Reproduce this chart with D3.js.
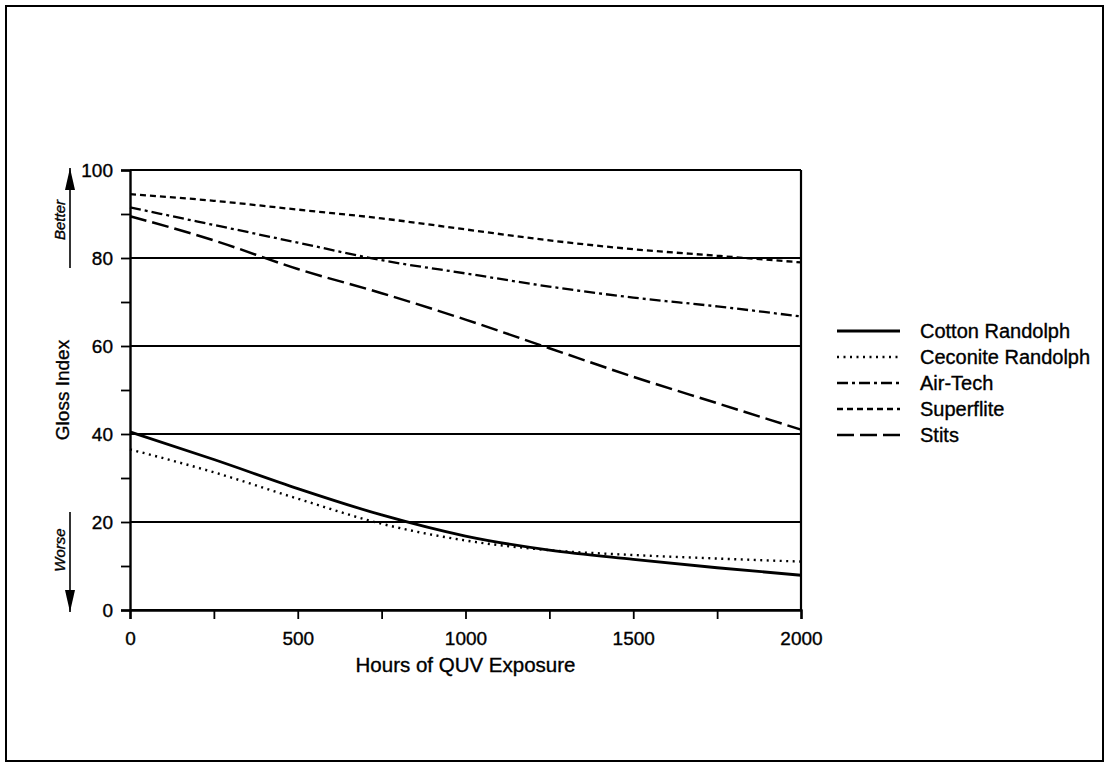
<!DOCTYPE html>
<html>
<head>
<meta charset="utf-8">
<script src="https://d3js.org/d3.v7.min.js"></script>
<style>
  html, body { margin: 0; padding: 0; background: #fff; }
  svg { display: block; }
  text { font-family: Arial, "Liberation Sans", sans-serif; fill: #000; stroke: #000; stroke-width: 0.35px; }
</style>
</head>
<body>
<div id="chart"></div>
<script>
// Gloss index vs hours of QUV exposure

const hours = [0, 250, 500, 750, 1000, 1250, 1500, 1750, 2000];

const cottonRandolph   = [40.5, 34.2, 27.6, 21.6, 16.8, 13.6, 11.5, 9.6, 7.9];
const ceconiteRandolph = [36.5, 31.3, 25.3, 19.6, 15.8, 13.6, 12.5, 11.7, 11.0];
const airTech          = [91.5, 87.5, 83.5, 79.5, 76.5, 73.5, 71.0, 69.0, 66.7];
const superflite       = [94.5, 93.0, 91.0, 89.0, 86.5, 84.0, 82.0, 80.5, 79.0];
const stits            = [89.5, 84.0, 77.5, 72.0, 66.0, 59.5, 53.0, 47.0, 41.0];

const seriesNames = ['Cotton Randolph', 'Ceconite Randolph', 'Air-Tech', 'Superflite', 'Stits'];
const seriesValues = [cottonRandolph, ceconiteRandolph, airTech, superflite, stits];

const xTickLabels = [0, 500, 1000, 1500, 2000];
const yTickLabels = [0, 20, 40, 60, 80, 100];

// line styles per series
const dashes = [null, '2,4.5', '11,4,3,4', '6,4', '17,6'];
const widths = [2.8, 2.4, 2.3, 2.3, 2.5];

const width = 1106, height = 764;
const margin = { left: 130, right: 305, top: 170, bottom: 154 };

const svg = d3.select('#chart')
    .append('svg')
    .attr('width', width)
    .attr('height', height);

// outer frame
svg.append('rect')
    .attr('x', 6).attr('y', 6)
    .attr('width', width - 9).attr('height', height - 9)
    .attr('fill', 'none')
    .attr('stroke', '#000')
    .attr('stroke-width', 2);

const x = d3.scaleLinear().domain([0, 2000]).range([margin.left, width - margin.right]);
const y = d3.scaleLinear().domain([0, 100]).range([height - margin.bottom, margin.top]);

// horizontal grid lines
svg.append('g')
    .selectAll('line')
    .data(yTickLabels)
    .join('line')
    .attr('x1', x(0)).attr('x2', x(2000))
    .attr('y1', d => y(d)).attr('y2', d => y(d))
    .attr('stroke', '#000')
    .attr('stroke-width', 1.8);

// right border
svg.append('line')
    .attr('x1', x(2000)).attr('x2', x(2000))
    .attr('y1', y(0)).attr('y2', y(100))
    .attr('stroke', '#000')
    .attr('stroke-width', 2.2);

// y axis
const yAxis = svg.append('g')
    .attr('transform', `translate(${x(0)},0)`)
    .call(d3.axisLeft(y).tickValues(d3.range(0, 101, 10)).tickSize(9).tickFormat(d => yTickLabels.includes(d) ? d : ''));
yAxis.select('.domain').attr('stroke-width', 2.4);
yAxis.selectAll('.tick line').attr('stroke-width', 1.8);
yAxis.selectAll('.tick text')
    .attr('x', -17)
    .style('font-size', '19px')
    .style('font-family', 'Arial, "Liberation Sans", sans-serif');

// x axis
const xAxis = svg.append('g')
    .attr('transform', `translate(0,${y(0)})`)
    .call(d3.axisBottom(x).tickValues(d3.range(0, 2001, 250)).tickSize(9).tickFormat(d => xTickLabels.includes(d) ? d : ''));
xAxis.select('.domain').attr('stroke-width', 2.4);
xAxis.selectAll('.tick line').attr('stroke-width', 1.8);
xAxis.selectAll('.tick text')
    .attr('y', 22)
    .style('font-size', '19px')
    .style('font-family', 'Arial, "Liberation Sans", sans-serif');

// axis titles
svg.append('text')
    .attr('x', x(1000))
    .attr('y', 672)
    .attr('text-anchor', 'middle')
    .style('font-size', '20.5px')
    .text('Hours of QUV Exposure');

svg.append('text')
    .attr('transform', `translate(69,${y(50)}) rotate(-90)`)
    .attr('text-anchor', 'middle')
    .style('font-size', '19px')
    .text('Gloss Index');

// better / worse arrows
const defs = svg.append('defs');
defs.append('marker')
    .attr('id', 'arrowhead')
    .attr('viewBox', '0 0 22 10')
    .attr('refX', 22).attr('refY', 5)
    .attr('markerWidth', 22).attr('markerHeight', 10)
    .attr('markerUnits', 'userSpaceOnUse')
    .attr('orient', 'auto')
    .append('path')
    .attr('d', 'M0,0 L22,5 L0,10 Z')
    .attr('fill', '#000');

svg.append('line')
    .attr('x1', 70).attr('x2', 70)
    .attr('y1', 268).attr('y2', 168)
    .attr('stroke', '#000').attr('stroke-width', 1.6)
    .attr('marker-end', 'url(#arrowhead)');

svg.append('line')
    .attr('x1', 70).attr('x2', 70)
    .attr('y1', 512).attr('y2', 612)
    .attr('stroke', '#000').attr('stroke-width', 1.6)
    .attr('marker-end', 'url(#arrowhead)');

svg.append('text')
    .attr('transform', 'translate(65,220) rotate(-90)')
    .attr('text-anchor', 'middle')
    .style('font-size', '15px')
    .style('font-style', 'italic')
    .text('Better');

svg.append('text')
    .attr('transform', 'translate(65,550) rotate(-90)')
    .attr('text-anchor', 'middle')
    .style('font-size', '15px')
    .style('font-style', 'italic')
    .text('Worse');

// data lines
const line = d3.line()
    .x((d, i) => x(hours[i]))
    .y(d => y(d))
    .curve(d3.curveMonotoneX);

svg.append('g')
    .selectAll('path')
    .data(seriesValues)
    .join('path')
    .attr('d', d => line(d))
    .attr('fill', 'none')
    .attr('stroke', '#000')
    .attr('stroke-width', (d, i) => widths[i])
    .attr('stroke-dasharray', (d, i) => dashes[i]);

// legend
const legend = svg.append('g')
    .selectAll('g')
    .data(seriesNames)
    .join('g')
    .attr('transform', (d, i) => `translate(837,${331 + i * 26})`);

legend.append('line')
    .attr('x1', 0).attr('x2', 63)
    .attr('stroke', '#000')
    .attr('stroke-width', (d, i) => widths[i])
    .attr('stroke-dasharray', (d, i) => dashes[i]);

legend.append('text')
    .attr('x', 83)
    .attr('dy', '0.35em')
    .style('font-size', '20px')
    .text(d => d);
</script>
</body>
</html>
